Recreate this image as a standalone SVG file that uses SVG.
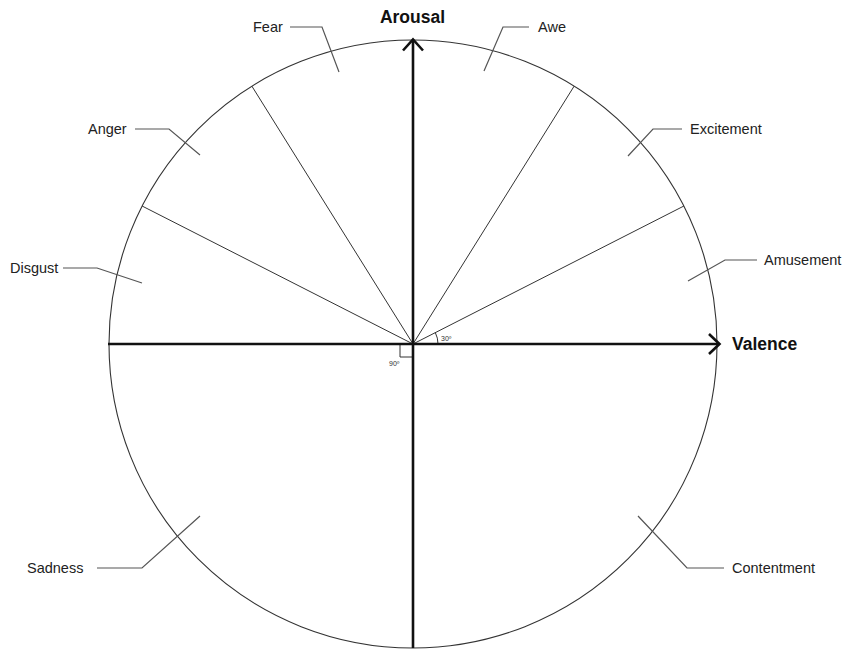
<svg xmlns="http://www.w3.org/2000/svg" width="844" height="650" viewBox="0 0 844 650">
<defs>
<style>
.lbl{font-family:"Liberation Sans",Arial,sans-serif;font-size:14.5px;fill:#222}
.ax{font-family:"Liberation Sans",Arial,sans-serif;font-size:17.5px;font-weight:bold;fill:#111}
.sm{font-family:"Liberation Sans",Arial,sans-serif;font-size:7px;fill:#333}
.lead{fill:none;stroke:#555;stroke-width:1.2}
.rad{stroke:#333;stroke-width:1;fill:none}
.axis{stroke:#111;stroke-width:2.6;fill:none}
</style>
</defs>
<rect width="844" height="650" fill="#fff"/>
<g id="circle"><circle cx="413" cy="344" r="304" fill="none" stroke="#333" stroke-width="1.1"/></g>
<g id="connectors">
<line class="rad" x1="413" y1="344" x2="683.9" y2="206"/>
<line class="rad" x1="413" y1="344" x2="574.1" y2="86.2"/>
<line class="rad" x1="413" y1="344" x2="251.9" y2="86.2"/>
<line class="rad" x1="413" y1="344" x2="142.1" y2="206"/>
<path class="rad" d="M438,344 A25,25 0 0 0 435.3,332.6"/>
<path class="rad" d="M400,344 V357 H413"/>
<path class="lead" d="M290,27 H322 L339,72"/>
<path class="lead" d="M529,27 H503 L484,71"/>
<path class="lead" d="M135,129 H169 L200,155"/>
<path class="lead" d="M682,129 H653 L628,156"/>
<path class="lead" d="M63,268 H97 L142,283"/>
<path class="lead" d="M757,260 H725 L688,281"/>
<path class="lead" d="M97,568 H142 L200,516"/>
<path class="lead" d="M724,568 H687 L638,516"/>
</g>
<g id="axes">
<line class="axis" x1="108" y1="344" x2="719" y2="344"/>
<path class="axis" d="M709,334 L719.5,344 L709,354"/>
<line class="axis" x1="413" y1="648" x2="413" y2="40"/>
<path class="axis" d="M403,50.5 L413,39.5 L423,50.5"/>
</g>
<g id="axis-labels">
<text class="ax" x="412.5" y="23" text-anchor="middle">Arousal</text>
<text class="ax" x="732" y="350">Valence</text>
<text class="sm" x="441" y="341">30º</text>
<text class="sm" x="389" y="366">90º</text>
</g>
<g id="node-fear"><text class="lbl" x="253" y="32">Fear</text></g>
<g id="node-awe"><text class="lbl" x="538" y="32">Awe</text></g>
<g id="node-anger"><text class="lbl" x="88" y="134">Anger</text></g>
<g id="node-excitement"><text class="lbl" x="690" y="134">Excitement</text></g>
<g id="node-disgust"><text class="lbl" x="10" y="273">Disgust</text></g>
<g id="node-amusement"><text class="lbl" x="764" y="265">Amusement</text></g>
<g id="node-sadness"><text class="lbl" x="27" y="573">Sadness</text></g>
<g id="node-contentment"><text class="lbl" x="732" y="573">Contentment</text></g>
</svg>
